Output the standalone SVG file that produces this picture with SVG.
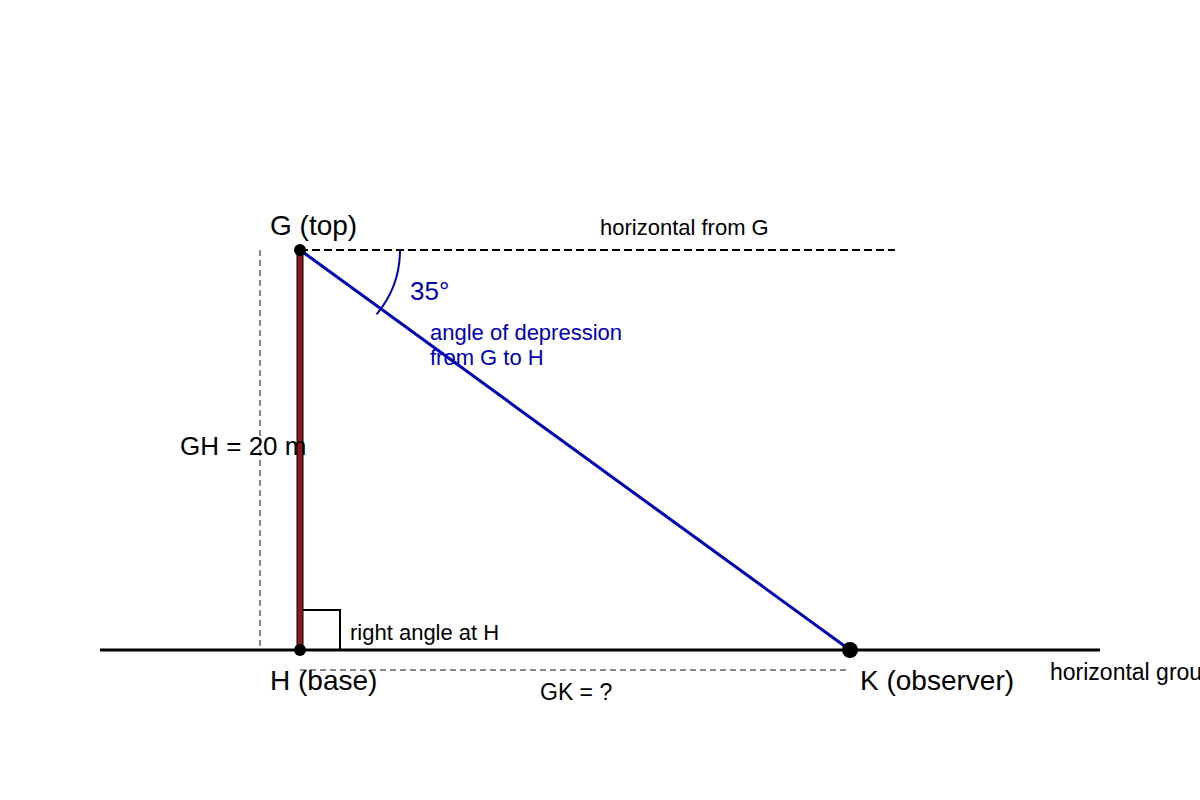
<svg xmlns="http://www.w3.org/2000/svg" width="1200" height="800" viewBox="0 0 1200 800">
<style>
text{font-family:"Liberation Sans",Arial,sans-serif;}
.lbl{fill:#000;}
.blue{fill:#0000b4;}
.guide{stroke:#888;stroke-width:2;stroke-dasharray:6,4;fill:none;}
</style>
<rect width="1200" height="800" fill="#fff"/>
<g id="connectors">
<line x1="100" y1="650" x2="1100" y2="650" stroke="#000" stroke-width="3"/>
<line x1="300" y1="250" x2="895" y2="250" stroke="#000" stroke-width="2" stroke-dasharray="8,4"/>
<line class="guide" x1="260" y1="250" x2="260" y2="650"/>
<line class="guide" x1="300" y1="670" x2="850" y2="670"/>
<line x1="300" y1="250" x2="850" y2="650" stroke="#0000b4" stroke-width="3"/>
<path d="M400,250 A100,100 0 0 1 376.6,314.3" fill="none" stroke="#0000b4" stroke-width="2"/>
<polyline points="300,610 340,610 340,650" fill="none" stroke="#000" stroke-width="2"/>
</g>
<g id="pole"><rect x="297" y="250" width="6" height="400" fill="#8b1a1a" stroke="#000" stroke-width="1"/></g>
<g id="G"><circle cx="300" cy="250" r="6" fill="#000"/><text class="lbl" x="270" y="235" font-size="28">G (top)</text></g>
<g id="H"><circle cx="300" cy="650" r="6" fill="#000"/><text class="lbl" x="270" y="690" font-size="28">H (base)</text></g>
<g id="K"><circle cx="850" cy="650" r="8" fill="#000"/><text class="lbl" x="860" y="690" font-size="28">K (observer)</text></g>
<g id="labels">
<text class="lbl" x="600" y="235" font-size="22">horizontal from G</text>
<text class="blue" x="410" y="300" font-size="26">35°</text>
<text class="blue" x="430" y="340" font-size="22">angle of depression</text>
<text class="blue" x="430" y="365" font-size="22">from G to H</text>
<text class="lbl" x="180" y="455" font-size="26">GH = 20 m</text>
<text class="lbl" x="350" y="640" font-size="22">right angle at H</text>
<text class="lbl" x="540" y="700" font-size="23">GK = ?</text>
<text class="lbl" x="1050" y="680" font-size="23">horizontal ground</text>
</g>
</svg>
